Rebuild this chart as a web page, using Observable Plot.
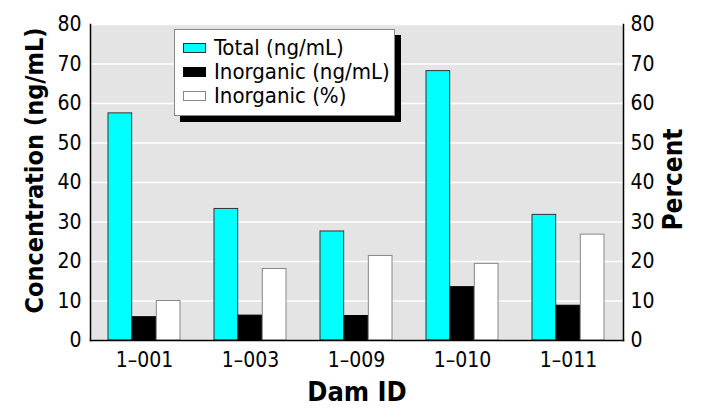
<!DOCTYPE html>
<html><head><meta charset="utf-8">
<script src="https://cdn.jsdelivr.net/npm/d3@7"></script>
<script src="https://cdn.jsdelivr.net/npm/@observablehq/plot@0.6"></script>
<style>
body{margin:0;background:#fff;}
#wrap{position:relative;width:702px;height:418px;font-family:"Liberation Sans Narrow","Arial Narrow","DejaVu Sans Condensed",sans-serif;}
#legend{position:absolute;left:174px;top:29px;width:219px;height:85px;background:#fff;border:1px solid #888;box-shadow:6px 6px 0 #000;}
.row{position:absolute;left:8px;height:24px;display:flex;align-items:center;font-size:22px;line-height:24px;color:#000;}
.sw{width:23px;height:10px;margin-right:8px;box-sizing:border-box;}
</style></head>
<body><div id="wrap"></div>
<script>
const dams = ["1–001", "1–003", "1–009", "1–010", "1–011"];
const totalNg = [57.5, 33.3, 27.6, 68.2, 31.8];
const inorganicNg = [5.9, 6.3, 6.2, 13.5, 8.8];
const inorganicPct = [10.0, 18.1, 21.4, 19.4, 26.8];
const yTicks = [0, 10, 20, 30, 40, 50, 60, 70, 80];
const seriesNames = ["Total (ng/mL)", "Inorganic (ng/mL)", "Inorganic (%)"];
const seriesFill = ["#00ffff", "#000000", "#ffffff"];
const seriesStroke = ["#333333", "#000000", "#888888"];

const W = 702, H = 418, mL = 90, mR = 79, mT = 24, mB = 78;
const pIn = 0.32, pOut = 0.16;
const step = (W - mL - mR) / (dams.length - pIn + 2 * pOut);
const bw = step * (1 - pIn), third = bw / 3;

const rows = dams.map((d, i) => ({dam: d, total: totalNg[i], inorg: inorganicNg[i], pct: inorganicPct[i]}));
const keys = ["total", "inorg", "pct"];

const plot = Plot.plot({
  width: W, height: H, marginLeft: mL, marginRight: mR, marginTop: mT, marginBottom: mB,
  style: {fontFamily: '"Liberation Sans Narrow","Arial Narrow","DejaVu Sans Condensed",sans-serif', fontSize: "21px", color: "#000", background: "#fff"},
  x: {type: "band", domain: dams, paddingInner: pIn, paddingOuter: pOut},
  y: {domain: [0, 80]},
  marks: [
    Plot.frame({fill: "#e4e4e4", stroke: null}),
    Plot.gridY(yTicks, {stroke: "#fff", strokeOpacity: 1, strokeWidth: 1.5}),
    ...keys.map((k, j) => Plot.barY(rows, {
      x: "dam", y: k, fill: seriesFill[j], stroke: seriesStroke[j], strokeWidth: 1,
      insetLeft: j * third, insetRight: (2 - j) * third
    })),
    Plot.axisY(yTicks, {anchor: "left", tickSize: 0, tickPadding: 9, label: null, fontSize: 21}),
    Plot.axisY(yTicks, {anchor: "right", tickSize: 0, tickPadding: 7, label: null, fontSize: 21}),
    Plot.axisX({tickSize: 0, tickPadding: 12, label: null, fontSize: 21}),
    Plot.frame({anchor: "left", stroke: "#000", strokeWidth: 1.5}),
    Plot.frame({anchor: "right", stroke: "#000", strokeWidth: 1.5}),
    Plot.frame({anchor: "bottom", stroke: "#000", strokeWidth: 1.5}),
    Plot.text(["Concentration (ng/mL)"], {frameAnchor: "left", rotate: -90, dx: -56, dy: -12, fontSize: 25, fontWeight: "bold", textAnchor: "middle"}),
    Plot.text(["Percent"], {frameAnchor: "right", rotate: -90, dx: 50, dy: -3, fontSize: 26, fontWeight: "bold", textAnchor: "middle"}),
    Plot.text(["Dam ID"], {frameAnchor: "bottom", dy: 60, fontSize: 27, fontWeight: "bold", textAnchor: "middle"})
  ]
});
const wrap = document.getElementById("wrap");
wrap.appendChild(plot);
const leg = document.createElement("div");
leg.id = "legend";
seriesNames.forEach((n, j) => {
  const r = document.createElement("div");
  r.className = "row";
  r.style.top = (6 + j * 24) + "px";
  const s = document.createElement("div");
  s.className = "sw";
  s.style.background = seriesFill[j];
  s.style.border = "1px solid " + seriesStroke[j];
  r.appendChild(s);
  r.appendChild(document.createTextNode(n));
  leg.appendChild(r);
});
wrap.appendChild(leg);
</script></body></html>
